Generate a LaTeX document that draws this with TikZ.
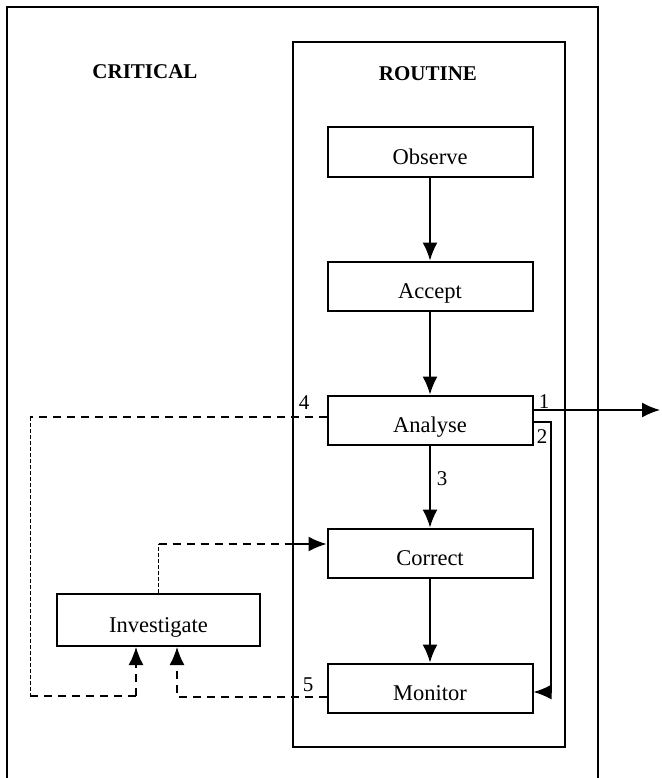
\documentclass[tikz,border=0pt]{standalone}
\usepackage{fontspec}
\setmainfont{Liberation Serif}
\usetikzlibrary{arrows.meta,calc}

\tikzset{
  box/.style={draw, line width=2pt, minimum width=205pt, minimum height=49pt,
    inner sep=0pt, text height=25pt, text depth=0pt, font=\fontsize{22.5}{27}\selectfont},
  head/.style={font=\bfseries\fontsize{21}{25}\selectfont},
  num/.style={inner sep=0pt, font=\fontsize{21}{25}\selectfont},
  frame/.style={line width=2pt},
  flow/.style={line width=1.6pt, -{Latex[length=18pt,width=15pt]}},
  back/.style={line width=1.6pt, dash pattern=on 8pt off 6pt},
  faint/.style={line width=0.8pt, dash pattern=on 4pt off 2pt},
}

\begin{document}
\begin{tikzpicture}[x=1pt,y=-1pt]
\clip (0,0) rectangle (661,778);

% Frames
\draw[frame] (7,7) rectangle (598,800);
\draw[frame] (293,42) rectangle (565,747);
\node[head] (crit) at (145,72) {CRITICAL};
\node[head] (rout) at (428,74) {ROUTINE};

% Routine steps
\node[box] (obs) at (430,152) {Observe};
\node[box] (acc) at (430,286) {Accept};
\node[box] (ana) at (430,420) {Analyse};
\node[box] (cor) at (430,553) {Correct};
\node[box] (mon) at (430,688) {Monitor};

% Critical step
\node[box, minimum width=203pt, minimum height=52pt] (inv) at (158.5,620) {Investigate};

% Main flow
\draw[flow] (obs) -- (acc);
\draw[flow] (acc) -- (ana);
\draw[flow] (ana) -- node[num, pos=0.4, right=6pt] {3} (cor);
\draw[flow] (cor) -- (mon);

% Exits 1 and 2
\coordinate (out) at (660,410);
\draw[flow] ([yshift=10pt]ana.east) -- (out);
\node[num] (n1) at (544,402) {1};
\draw[flow] ([yshift=-2pt]ana.east) -- (551,422) |- ([yshift=-4pt]mon.east);
\node[num] (n2) at (542,437) {2};

% Loop 4 back to investigate
\coordinate (l4a) at (30,417);
\coordinate (l4b) at (30,696);
\coordinate (l4c) at ([xshift=-22.5pt]inv.south |- l4b);
\draw[back] ([yshift=3pt]ana.west) -- (l4a);
\draw[faint] (l4a) -- (l4b);
\draw[back] (l4b) -- (l4c);
\draw[back, -{Latex[length=18pt,width=15pt]}] (l4c) -- ([xshift=-22.5pt]inv.south);
\node[num] (n4) at (304,403) {4};

% Loop 5 back to investigate
\draw[back, -{Latex[length=18pt,width=15pt]}] ([yshift=-9pt]mon.west) -| ([xshift=18.5pt]inv.south);
\node[num] (n5) at (308,685) {5};

% Investigate feeds correct
\coordinate (up) at (inv.north |- 0,544);
\coordinate (gate) at (293,544);
\draw[faint] (inv.north) -- (up);
\draw[back] (up) -- (gate);
\draw[flow] (gate) -- ([yshift=9pt]cor.west);

\end{tikzpicture}
\end{document}
